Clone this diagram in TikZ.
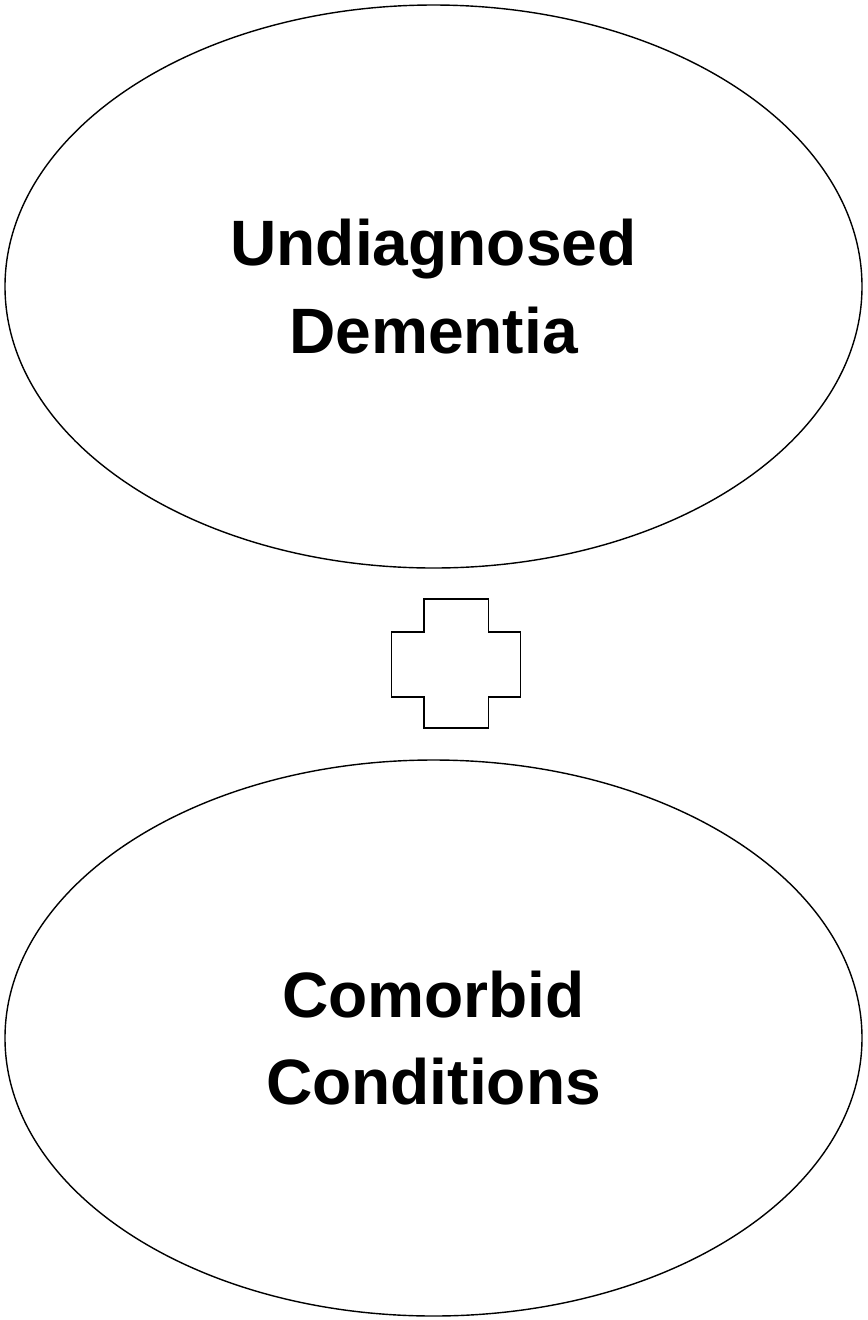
\documentclass[tikz,border=0pt]{standalone}
\usepackage{fontspec}
\setmainfont{Liberation Sans}
\usetikzlibrary{shapes.geometric}

\begin{document}
\begin{tikzpicture}[main node/.style={ellipse,draw,line width=0.8pt,inner sep=0pt,minimum width=17.14cm,align=center,font=\fontsize{36.5}{50}\selectfont\bfseries}]

\useasboundingbox (0,0) rectangle (17.34,-26.4);

\node[main node,minimum height=11.26cm] (dementia) at (8.67,-5.73) {Undiagnosed\\Dementia};
\node[main node,minimum height=11.12cm] (comorbid) at (8.67,-20.76) {Comorbid\\Conditions};

\coordinate (plus) at (9.125,-13.27);

\draw[line width=0.8pt,shift={(plus)}] (-0.645,1.29) -- (0.645,1.29) -- (0.645,0.63) -- (1.29,0.63) -- (1.29,-0.67) -- (0.645,-0.67) -- (0.645,-1.29) -- (-0.645,-1.29) -- (-0.645,-0.67) -- (-1.29,-0.67) -- (-1.29,0.63) -- (-0.645,0.63) -- cycle;
\end{tikzpicture}
\end{document}
